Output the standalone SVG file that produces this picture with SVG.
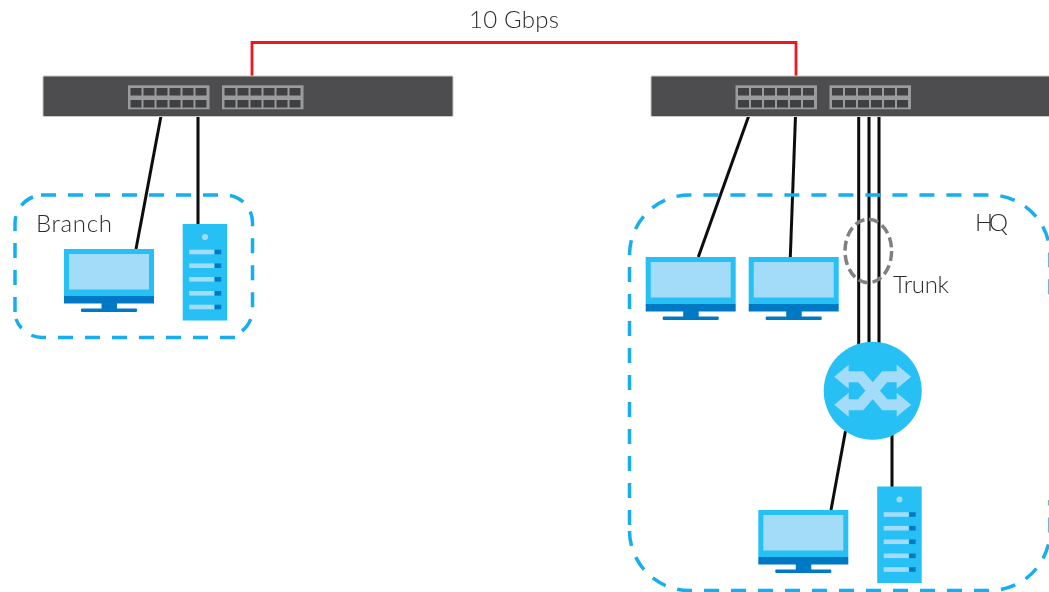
<svg xmlns="http://www.w3.org/2000/svg" width="1049" height="592" viewBox="0 0 1049 592">
<style>
.lbl{font-family:"Lato","Liberation Sans",sans-serif;font-size:24px;fill:#2b2b2b;font-weight:300}
.link{fill:none;stroke:#0d0d0d;stroke-width:3}
.zone{fill:none;stroke:#16aeef;stroke-width:3.5;stroke-dasharray:15 12}
.chassis{fill:#4d4d4f;stroke:#c9c9ca;stroke-width:1}
.block{fill:#9a9b9d}
.port{fill:#403f40}
.lt{fill:#a3dcf9}
.mid{fill:#26c0f5}
.dk{fill:#0079c5}
</style>
<defs>
<filter id="soft" x="0" y="0" width="100%" height="100%" filterUnits="userSpaceOnUse"><feGaussianBlur stdDeviation="0.4"/></filter>
<g id="ports">
<rect class="block" width="81.5" height="24"/>
<g class="port">
<rect x="2.5" y="2.7" width="11" height="7.5"/><rect x="15.5" y="2.7" width="11" height="7.5"/><rect x="28.5" y="2.7" width="11" height="7.5"/><rect x="41.5" y="2.7" width="11" height="7.5"/><rect x="54.5" y="2.7" width="11" height="7.5"/><rect x="67.5" y="2.7" width="11" height="7.5"/>
<rect x="2.5" y="14.7" width="11" height="7.5"/><rect x="15.5" y="14.7" width="11" height="7.5"/><rect x="28.5" y="14.7" width="11" height="7.5"/><rect x="41.5" y="14.7" width="11" height="7.5"/><rect x="54.5" y="14.7" width="11" height="7.5"/><rect x="67.5" y="14.7" width="11" height="7.5"/>
</g>
</g>
<g id="monitor">
<rect class="mid" width="90" height="47"/>
<rect class="lt" x="5" y="5" width="80" height="35.5"/>
<rect class="dk" y="47" width="90" height="7.5"/>
<rect class="dk" x="37.5" y="54" width="15.5" height="6"/>
<rect class="dk" x="17" y="59.5" width="56" height="3.5" rx="1"/>
</g>
<g id="server">
<rect class="mid" width="44.5" height="96.5"/>
<circle class="lt" cx="22.3" cy="13" r="3"/>
<g class="lt"><rect x="6.5" y="25.7" width="25" height="4.6"/><rect x="6.5" y="39.4" width="25" height="4.6"/><rect x="6.5" y="53" width="25" height="4.6"/><rect x="6.5" y="67" width="25" height="4.6"/><rect x="6.5" y="80.7" width="25" height="4.6"/></g>
<g class="dk"><rect x="32" y="25.7" width="6.5" height="4.6"/><rect x="32" y="39.4" width="6.5" height="4.6"/><rect x="32" y="53" width="6.5" height="4.6"/><rect x="32" y="67" width="6.5" height="4.6"/><rect x="32" y="80.7" width="6.5" height="4.6"/></g>
</g>
</defs>
<g filter="url(#soft)">
<g id="connectors">
<path d="M252 76V42.5H796V76" fill="none" stroke="#f0141e" stroke-width="2.8"/>
<path class="link" d="M161 116L136 249"/>
<path class="link" d="M198 116V224"/>
<path class="link" d="M748.7 116L698.3 257"/>
<path class="link" d="M795.5 116L790.3 257"/>
<path class="link" d="M858.7 116V346"/>
<path class="link" d="M869 116V343"/>
<path class="link" d="M879 116V346"/>
<path class="link" d="M845.5 431L831 510"/>
<path class="link" d="M892 434V487"/>
</g>

<g id="switch-branch">
<rect class="chassis" x="43" y="76" width="410" height="40.5" rx="1"/>
<use href="#ports" x="128" y="85.3"/>
<use href="#ports" x="222" y="85.3"/>
</g>
<g id="switch-hq">
<rect class="chassis" x="651" y="76" width="410" height="40.5" rx="1"/>
<use href="#ports" x="735.5" y="85.3"/>
<use href="#ports" x="829.5" y="85.3"/>
</g>

<g id="zone-branch">
<path class="zone" d="M41 195H225A27.5 27.5 0 0 1 252.5 222.5V309.5A27.5 27.5 0 0 1 242 331M73 337.5H43A28 28 0 0 1 16 319M58 337.5H235M15 312V223A28 28 0 0 1 33 197"/>
<text class="lbl" x="36" y="232" textLength="76">Branch</text>
</g>
<g id="zone-hq">
<path class="zone" d="M746 590.5H690A60 60 0 0 1 629.5 530M629.5 525V255A60 60 0 0 1 690 195H990A60 60 0 0 1 1050 255V300M731 590.5H990A60 60 0 0 0 1050 530V500"/>
<text class="lbl" x="975" y="231" textLength="33">HQ</text>
</g>

<g id="pc-branch"><use href="#monitor" x="64" y="249"/></g>
<g id="server-branch"><use href="#server" x="182.7" y="224"/></g>
<g id="pc-hq-1"><use href="#monitor" x="645.7" y="257"/></g>
<g id="pc-hq-2"><use href="#monitor" x="748.7" y="257"/></g>
<g id="pc-hq-3"><use href="#monitor" x="758.3" y="510"/></g>
<g id="server-hq"><use href="#server" x="877.2" y="486.5"/></g>

<g id="hub" transform="translate(872.7 390.7)">
<circle class="mid" r="49"/>
<path d="M-26 -14H-12L12 14H26M-26 14H-12L12 -14H26" fill="none" stroke="#a3dcf9" stroke-width="11"/>
<path class="lt" d="M-38.5 -14L-24 -26V-2ZM-38.5 14L-24 2V26ZM38.5 -14L24 -26V-2ZM38.5 14L24 2V26Z"/>
</g>

<g id="trunk">
<ellipse cx="868.3" cy="251" rx="23.3" ry="31.7" fill="none" stroke="#808080" stroke-width="3.5" stroke-dasharray="10 4.5"/>
<text class="lbl" x="893" y="293" textLength="56">Trunk</text>
</g>
<text class="lbl" x="469" y="28" textLength="90">10 Gbps</text>
</g>
</svg>
